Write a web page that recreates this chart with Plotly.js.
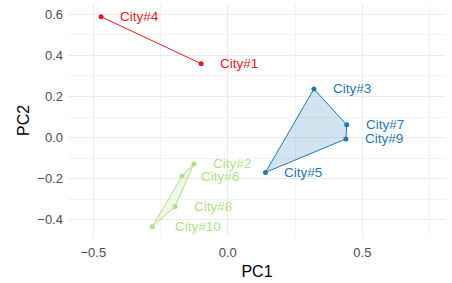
<!DOCTYPE html>
<html>
<head>
<meta charset="utf-8">
<script src="https://cdn.plot.ly/plotly-3.0.1.min.js"></script>
<style>html,body{margin:0;padding:0;background:#fff;}#chart{width:452px;height:283px;}</style>
</head>
<body>
<div id="chart"></div>
<script>
// Data
const cities = ["City#1","City#2","City#3","City#4","City#5","City#6","City#7","City#8","City#9","City#10"];
const pc1 = [-0.099, -0.126, 0.320, -0.471, 0.140, -0.170, 0.442, -0.196, 0.439, -0.281];
const pc2 = [0.360, -0.129, 0.237, 0.589, -0.170, -0.188, 0.062, -0.336, -0.007, -0.435];
const cluster = [1, 3, 2, 1, 2, 3, 2, 3, 2, 3];
const clusterIds = [1, 2, 3];
const clusterColors = {1: "#e31a1c", 2: "#1f78b4", 3: "#b2df8a"};
const clusterFills = {1: "rgba(227,26,28,0.2)", 2: "rgba(31,120,180,0.2)", 3: "rgba(178,223,138,0.2)"};
const labelShift = {"City#10": 21};

function hull(pts) {
  pts = pts.slice().sort((a, b) => a[0] - b[0] || a[1] - b[1]);
  if (pts.length < 3) return pts;
  const cross = (o, a, b) => (a[0]-o[0])*(b[1]-o[1]) - (a[1]-o[1])*(b[0]-o[0]);
  const lower = [], upper = [];
  for (const p of pts) { while (lower.length >= 2 && cross(lower[lower.length-2], lower[lower.length-1], p) <= 0) lower.pop(); lower.push(p); }
  for (let i = pts.length - 1; i >= 0; i--) { const p = pts[i]; while (upper.length >= 2 && cross(upper[upper.length-2], upper[upper.length-1], p) <= 0) upper.pop(); upper.push(p); }
  upper.pop(); lower.pop();
  return lower.concat(upper);
}

const traces = [];
clusterIds.forEach(c => {
  const pts = [];
  cities.forEach((n, i) => { if (cluster[i] === c) pts.push([pc1[i], pc2[i]]); });
  const h = hull(pts);
  const hx = h.map(p => p[0]), hy = h.map(p => p[1]);
  if (h.length >= 3) { hx.push(h[0][0]); hy.push(h[0][1]); }
  traces.push({
    x: hx, y: hy, type: "scatter", mode: "lines",
    fill: h.length >= 3 ? "toself" : "none",
    fillcolor: clusterFills[c],
    line: {color: clusterColors[c], width: 1},
    hoverinfo: "skip", showlegend: false
  });
});
clusterIds.forEach(c => {
  const xs = [], ys = [];
  cities.forEach((n, i) => { if (cluster[i] === c) { xs.push(pc1[i]); ys.push(pc2[i]); } });
  traces.push({
    x: xs, y: ys, type: "scatter", mode: "markers",
    marker: {color: clusterColors[c], size: 5},
    showlegend: false
  });
});

const annotations = cities.map((n, i) => ({
  x: pc1[i], y: pc2[i], xref: "x", yref: "y",
  text: n, showarrow: false, xanchor: "left", yanchor: "middle",
  xshift: labelShift[n] || 17,
  font: {family: "Liberation Sans, Arial, sans-serif", size: 13.5, color: clusterColors[cluster[i]]}
}));
annotations.push({
  x: 0, y: 0.5, xref: "paper", yref: "paper", xanchor: "center", yanchor: "middle",
  xshift: -44.5, text: "PC2", textangle: -90, showarrow: false,
  font: {family: "Liberation Sans, Arial, sans-serif", size: 16, color: "#000"}
});

const grid = "#ebebeb";
const layout = {
  width: 452, height: 283,
  margin: {l: 68, r: 6, t: 4, b: 46},
  paper_bgcolor: "#fff", plot_bgcolor: "#fff",
  showlegend: false,
  font: {family: "Liberation Sans, Arial, sans-serif"},
  xaxis: {
    range: [-0.594, 0.811], tickvals: [-0.5, 0, 0.5], tickformat: ".1f",
    showgrid: true, gridcolor: grid, gridwidth: 1.1, zeroline: false, showline: false,
    ticks: "", ticklen: 0, ticklabelstandoff: 6,
    tickfont: {size: 13, color: "#4d4d4d"},
    minor: {tickvals: [-0.25, 0.25, 0.75], showgrid: true, gridcolor: grid, gridwidth: 0.6},
    title: {text: "PC1", font: {size: 16, color: "#000"}, standoff: 6}
  },
  yaxis: {
    range: [-0.485, 0.651], tickvals: [-0.4, -0.2, 0, 0.2, 0.4, 0.6], tickformat: ".1f",
    showgrid: true, gridcolor: grid, gridwidth: 1.1, zeroline: false, showline: false,
    ticks: "", ticklen: 0, ticklabelstandoff: 4,
    tickfont: {size: 13, color: "#4d4d4d"},
    minor: {tickvals: [-0.3, -0.1, 0.1, 0.3, 0.5], showgrid: true, gridcolor: grid, gridwidth: 0.6}
  },
  annotations: annotations
};

Plotly.newPlot("chart", traces, layout, {staticPlot: true, displayModeBar: false});
</script>
</body>
</html>
